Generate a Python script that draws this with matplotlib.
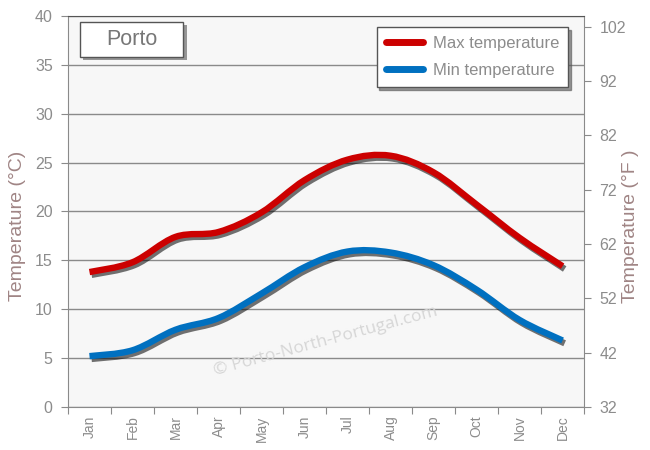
import matplotlib
matplotlib.use("Agg")
import matplotlib.pyplot as plt
import matplotlib.patheffects as pe
from matplotlib.path import Path
from matplotlib.patches import PathPatch, Rectangle
from matplotlib.lines import Line2D

plt.rcParams['font.family'] = ['Liberation Sans', 'DejaVu Sans']

months = ["Jan", "Feb", "Mar", "Apr", "May", "Jun",
          "Jul", "Aug", "Sep", "Oct", "Nov", "Dec"]
max_temp = [13.8, 14.8, 17.4, 17.9, 19.9, 23.2, 25.3, 25.7, 24.0, 20.7, 17.3, 14.4]
min_temp = [5.2, 5.8, 7.9, 9.1, 11.6, 14.3, 15.9, 15.8, 14.5, 12.0, 8.9, 6.8]
c_ticks = [0, 5, 10, 15, 20, 25, 30, 35, 40]
f_ticks = [32, 42, 52, 62, 72, 82, 92, 102]

tick_color = "#8c8c8c"
label_color = "#a08585"


def smooth_path(xs, ys):
    # Catmull-Rom segments as cubic bezier curves
    pts = list(zip(xs, ys))
    verts = [pts[0]]
    codes = [Path.MOVETO]
    n = len(pts)
    for i in range(n - 1):
        p0 = pts[i - 1] if i > 0 else pts[i]
        p1 = pts[i]
        p2 = pts[i + 1]
        p3 = pts[i + 2] if i + 2 < n else pts[i + 1]
        c1 = (p1[0] + (p2[0] - p0[0]) / 6, p1[1] + (p2[1] - p0[1]) / 6)
        c2 = (p2[0] - (p3[0] - p1[0]) / 6, p2[1] - (p3[1] - p1[1]) / 6)
        verts += [c1, c2, p2]
        codes += [Path.CURVE4] * 3
    return Path(verts, codes)


fig = plt.figure(figsize=(6.5, 4.5), dpi=100)
ax = fig.add_axes([0.1046, 0.0956, 0.794, 0.869])
ax.set_facecolor("#f7f7f7")

x = list(range(len(months)))
shadow = [pe.SimpleLineShadow(offset=(1.5, -2), shadow_color="black", alpha=0.55),
          pe.Normal()]
for vals, color in [(max_temp, "#cc0000"), (min_temp, "#0070c0")]:
    patch = PathPatch(smooth_path(x, vals), facecolor="none", edgecolor=color,
                      lw=4.6, capstyle="butt", joinstyle="round", zorder=3)
    patch.set_path_effects(shadow)
    ax.add_patch(patch)

# Axes limits and grid
ax.set_xlim(-0.5, 11.5)
ax.set_ylim(0, 40)
ax.set_yticks(c_ticks)
ax.yaxis.grid(True, color="#8a8a8a", lw=1)
ax.set_axisbelow(True)

ax.set_xticks([i - 0.5 for i in range(13)])
ax.set_xticklabels([])
ax.set_xticks(x, minor=True)
ax.set_xticklabels(months, minor=True, rotation=90, fontsize=10, color=tick_color)
ax.tick_params(axis="x", which="minor", length=0, pad=6)
ax.tick_params(axis="x", which="major", length=5, color="#8a8a8a")
ax.tick_params(axis="y", length=5, color="#8a8a8a", labelsize=11.5, labelcolor=tick_color, pad=6)

for side in ["left", "right", "bottom"]:
    ax.spines[side].set_color("#8a8a8a")
ax.spines["top"].set_color("#555555")

ax.set_ylabel("Temperature (°C)", fontsize=14, color=label_color)
ax.yaxis.set_label_coords(-0.081, 0.463)

# Fahrenheit axis
ax2 = ax.twinx()
ax2.set_ylim(32, 104)
ax2.set_yticks(f_ticks)
ax2.tick_params(axis="y", length=5, color="#8a8a8a", labelsize=11.5, labelcolor=tick_color, pad=6)
for side in ["left", "right", "bottom", "top"]:
    ax2.spines[side].set_visible(False)
ax2.set_ylabel("Temperature (°F )", fontsize=14, color=label_color)
ax2.yaxis.set_label_coords(1.074, 0.463)

# Title box
box = Rectangle((0.023, 0.895), 0.2, 0.09, transform=ax.transAxes, fc="white",
                ec="#555555", lw=1, zorder=5)
box.set_path_effects([pe.SimplePatchShadow(offset=(2.5, -2.5), shadow_rgbFace="#555555", alpha=0.6),
                      pe.Normal()])
ax.add_patch(box)
ax.text(0.123, 0.94, "Porto", color="#777777", fontsize=15.5, ha="center", va="center",
        transform=ax.transAxes, zorder=6)

# Legend
handles = [Line2D([], [], color="#cc0000", lw=5, solid_capstyle="round"),
           Line2D([], [], color="#0070c0", lw=5, solid_capstyle="round")]
leg = ax.legend(handles, ["Max temperature", "Min temperature"], loc="upper right",
                bbox_to_anchor=(0.969, 0.972), borderaxespad=0, fontsize=12, frameon=True,
                fancybox=False, shadow={"color": "#555555", "alpha": 0.6}, edgecolor="#555555",
                handlelength=2.2, handletextpad=0.6, labelspacing=0.7, borderpad=0.55,
                framealpha=1)
leg.get_frame().set_linewidth(1)
leg.set_zorder(6)
for t in leg.get_texts():
    t.set_color("#8c8c8c")

# Watermark
ax.text(0.5, 0.169, "© Porto-North-Portugal.com", transform=ax.transAxes,
        rotation=15, fontsize=12.5, color="#d6d6d6", ha="center", va="center",
        family=["Open Sans", "DejaVu Sans"], zorder=2)

fig.savefig("out.png", dpi=100)
